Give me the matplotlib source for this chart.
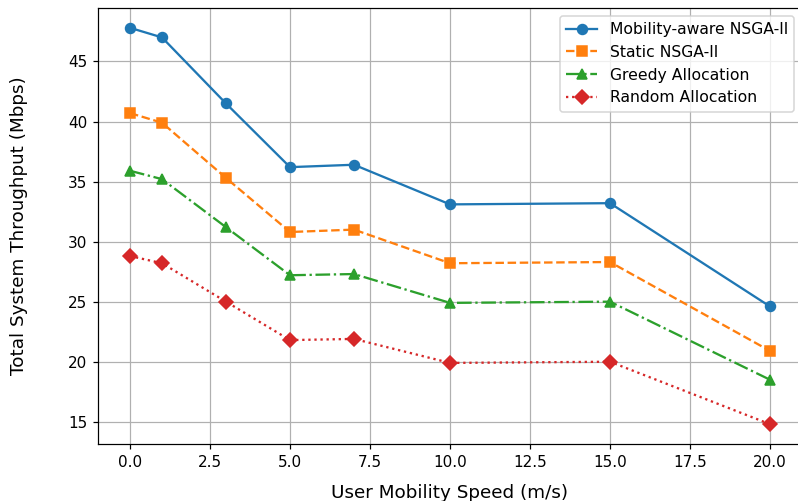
import numpy as np
import matplotlib.pyplot as plt

speeds = [0, 1, 3, 5, 7, 10, 15, 20]
mobility_nsga = [47.8, 47.0, 41.5, 36.2, 36.4, 33.1, 33.2, 24.6]
static_nsga = [40.7, 39.9, 35.3, 30.8, 31.0, 28.2, 28.3, 20.9]
greedy = [35.9, 35.2, 31.2, 27.2, 27.3, 24.9, 25.0, 18.5]
random_alloc = [28.8, 28.2, 25.0, 21.8, 21.9, 19.9, 20.0, 14.8]

dpi = 110
fig = plt.figure(figsize=(798 / dpi, 501 / dpi), dpi=dpi)
ax = fig.add_axes([98 / 798, 57 / 501, 704 / 798, 436 / 501])

ms = 6.5
ax.plot(speeds, mobility_nsga, marker="o", ms=ms, linestyle="-", label="Mobility-aware NSGA-II")
ax.plot(speeds, static_nsga, marker="s", ms=ms, linestyle="--", label="Static NSGA-II")
ax.plot(speeds, greedy, marker="^", ms=ms, linestyle="-.", label="Greedy Allocation")
ax.plot(speeds, random_alloc, marker="D", ms=ms, linestyle=":", label="Random Allocation")

ax.set_xlabel("User Mobility Speed (m/s)", fontsize=12, labelpad=9.5)
ax.set_ylabel("Total System Throughput (Mbps)", fontsize=12, labelpad=26)
ax.grid(True)
ax.legend(loc="upper right", fontsize=10.2)

fig.savefig("out.png", dpi=dpi)
